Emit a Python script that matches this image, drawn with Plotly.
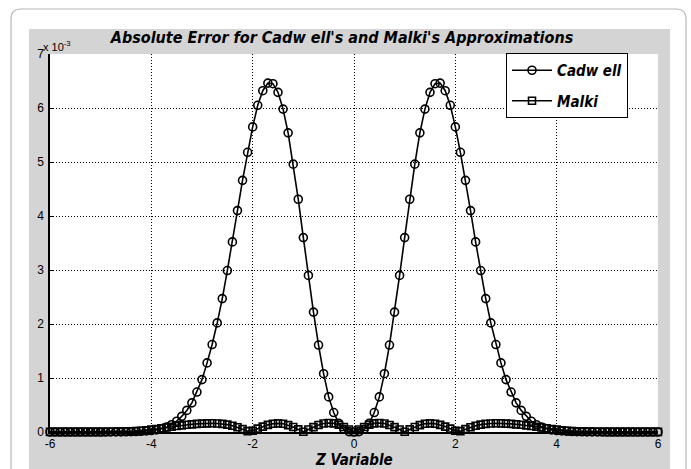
import numpy as np
import plotly.graph_objects as go

# z grid (-6 .. 6, step 0.1)
z = np.round(np.arange(-60, 61) / 10.0, 1)

# Absolute error, in units of 1e-3 (x = -6.0 ... -0.1)
cadwell_left = [
    0.000, 0.000, 0.000, 0.000, 0.000, 0.000, 0.000, 0.000, 0.000, 0.000, 0.000,
    0.001, 0.001, 0.002, 0.003, 0.004, 0.006, 0.009, 0.013, 0.019, 0.027,
    0.040, 0.060, 0.090, 0.135, 0.20, 0.29, 0.40, 0.54, 0.74, 0.97,
    1.28, 1.62, 2.02, 2.47, 2.99, 3.52, 4.10, 4.66, 5.18, 5.65,
    6.05, 6.32, 6.46, 6.45, 6.29, 5.98, 5.54, 4.96, 4.31, 3.60,
    2.90, 2.22, 1.61, 1.08, 0.65, 0.36, 0.16, 0.05, 0.007,
]
cadwell_right = [
    0.007, 0.05, 0.16, 0.36, 0.65, 1.08, 1.61, 2.22, 2.90,
    3.60, 4.31, 4.96, 5.54, 5.98, 6.29, 6.45, 6.46, 6.32, 6.05,
    5.65, 5.18, 4.66, 4.10, 3.52, 2.99, 2.47, 2.02, 1.62, 1.28,
    0.97, 0.74, 0.54, 0.40, 0.29, 0.20, 0.135, 0.090, 0.060, 0.040,
    0.027, 0.019, 0.013, 0.009, 0.006, 0.004, 0.003, 0.002, 0.001, 0.001,
    0.000, 0.000, 0.000, 0.000, 0.000, 0.000, 0.000, 0.000, 0.000, 0.000, 0.000,
]
cadwell = cadwell_left + [0.0] + cadwell_right

malki_left = [
    0.002, 0.002, 0.002, 0.002, 0.002, 0.002, 0.002, 0.002, 0.002, 0.002, 0.002,
    0.003, 0.004, 0.005, 0.007, 0.009, 0.012, 0.017, 0.024, 0.033, 0.044,
    0.056, 0.069, 0.083, 0.097, 0.110, 0.122, 0.133, 0.142, 0.150, 0.156,
    0.160, 0.161, 0.158, 0.150, 0.136, 0.115, 0.087, 0.053, 0.016, 0.022,
    0.062, 0.100, 0.132, 0.153, 0.160, 0.152, 0.128, 0.092, 0.048, 0.004,
    0.045, 0.090, 0.130, 0.158, 0.168, 0.160, 0.133, 0.092, 0.045,
]
malki_right = [
    0.045, 0.092, 0.133, 0.160, 0.168, 0.158, 0.130, 0.090, 0.045,
    0.004, 0.048, 0.092, 0.128, 0.152, 0.160, 0.153, 0.132, 0.100, 0.062,
    0.022, 0.016, 0.053, 0.087, 0.115, 0.136, 0.150, 0.158, 0.161, 0.160,
    0.156, 0.150, 0.142, 0.133, 0.122, 0.110, 0.097, 0.083, 0.069, 0.056,
    0.044, 0.033, 0.024, 0.017, 0.012, 0.009, 0.007, 0.005, 0.004, 0.003,
    0.002, 0.002, 0.002, 0.002, 0.002, 0.002, 0.002, 0.002, 0.002, 0.002, 0.002,
]
malki = malki_left + [0.0] + malki_right

x_ticks = [-6, -4, -2, 0, 2, 4, 6]
y_ticks = [0, 1, 2, 3, 4, 5, 6, 7]

TITLE_FONT = "DejaVu Sans Condensed, Liberation Sans Narrow, sans-serif"
TICK_FONT = "Liberation Sans, Arial, sans-serif"

fig = go.Figure()
fig.add_trace(go.Scatter(
    x=z, y=cadwell, name="Cadw ell", mode="lines+markers", legendgroup="a",
    line=dict(color="black", width=1.6),
    marker=dict(symbol="circle-open", size=8, color="black", line=dict(width=1.6)),
    cliponaxis=False,
))
fig.add_trace(go.Scatter(
    x=z, y=malki, name="Malki", mode="lines+markers", legendgroup="b",
    line=dict(color="black", width=1.6),
    marker=dict(symbol="square-open", size=7, color="black", line=dict(width=1.6)),
    cliponaxis=False,
))

W, H = 691, 469
L, R, T, B = 50, 33, 54, 37
pw, ph = W - L - R, H - T - B

def px(xp):
    return (xp - L) / pw

def py(yp):
    return (H - B - yp) / ph

shapes = []
# outer rounded frame
x0, x1, yt, yb = px(11), px(686), py(9), py(500)
rx, ry = 10 / pw, 10 / ph
shapes.append(dict(
    type="path", xref="paper", yref="paper", layer="below",
    path=(f"M {x0},{yb} L {x0},{yt-ry} Q {x0},{yt} {x0+rx},{yt} "
          f"L {x1-rx},{yt} Q {x1},{yt} {x1},{yt-ry} L {x1},{yb}"),
    line=dict(color="#b8b8b8", width=1.2),
))
# gray panel
shapes.append(dict(
    type="rect", xref="paper", yref="paper", layer="below",
    x0=px(29), x1=px(670), y0=py(500), y1=py(29),
    fillcolor="#d4d4d4", line=dict(width=0),
))
# white plotting area
shapes.append(dict(
    type="rect", xref="paper", yref="paper", layer="below",
    x0=0, x1=1, y0=0, y1=1, fillcolor="white", line=dict(width=0),
))

fig.update_layout(
    width=W, height=H, autosize=False,
    margin=dict(l=L, r=R, t=T, b=B, pad=0),
    paper_bgcolor="white", plot_bgcolor="white",
    shapes=shapes,
    showlegend=True,
    legend=dict(
        x=px(506), y=py(53), xanchor="left", yanchor="top",
        bgcolor="white", bordercolor="black", borderwidth=1,
        font=dict(family=TITLE_FONT, size=15, color="black", weight="bold", style="italic"),
        itemwidth=40, tracegroupgap=8,
    ),
    title=dict(
        text="Absolute Error for Cadw ell's and Malki's Approximations",
        x=342 / W, xanchor="center", xref="container",
        y=1 - 37 / H, yanchor="middle", yref="container",
        font=dict(family=TITLE_FONT, size=16, color="black", weight="bold", style="italic"),
    ),
    xaxis=dict(
        range=[-6, 6], tickmode="array", tickvals=x_ticks,
        ticktext=[str(v) for v in x_ticks],
        showgrid=True, gridcolor="black", griddash="1px,2px", gridwidth=1,
        zeroline=False, showline=True, linecolor="black", linewidth=1.5,
        ticks="inside", ticklen=4, tickcolor="black",
        tickfont=dict(family=TICK_FONT, size=12, color="black"),
    ),
    yaxis=dict(
        range=[0, 7], tickmode="array", tickvals=y_ticks,
        ticktext=[str(v) for v in y_ticks],
        showgrid=True, gridcolor="black", griddash="1px,2px", gridwidth=1,
        zeroline=False, showline=True, linecolor="black", linewidth=1.5,
        ticks="inside", ticklen=4, tickcolor="black",
        tickfont=dict(family=TICK_FONT, size=12, color="black"),
        ticklabelstandoff=2,
    ),
    annotations=[
        dict(text="x 10<sup>-3</sup>", xref="paper", yref="paper",
             x=px(41), y=py(46), xanchor="left", yanchor="middle", showarrow=False,
             font=dict(family=TICK_FONT, size=11, color="black")),
        dict(text="Z Variable", xref="paper", yref="paper",
             x=0.5, y=py(460), xanchor="center", yanchor="middle", showarrow=False,
             font=dict(family=TITLE_FONT, size=15, color="black", weight="bold", style="italic")),
    ],
)

fig.write_html(
    "out.html",
    config={"displayModeBar": False},
    post_script="document.body.style.margin='0';document.body.style.overflow='hidden';",
)
